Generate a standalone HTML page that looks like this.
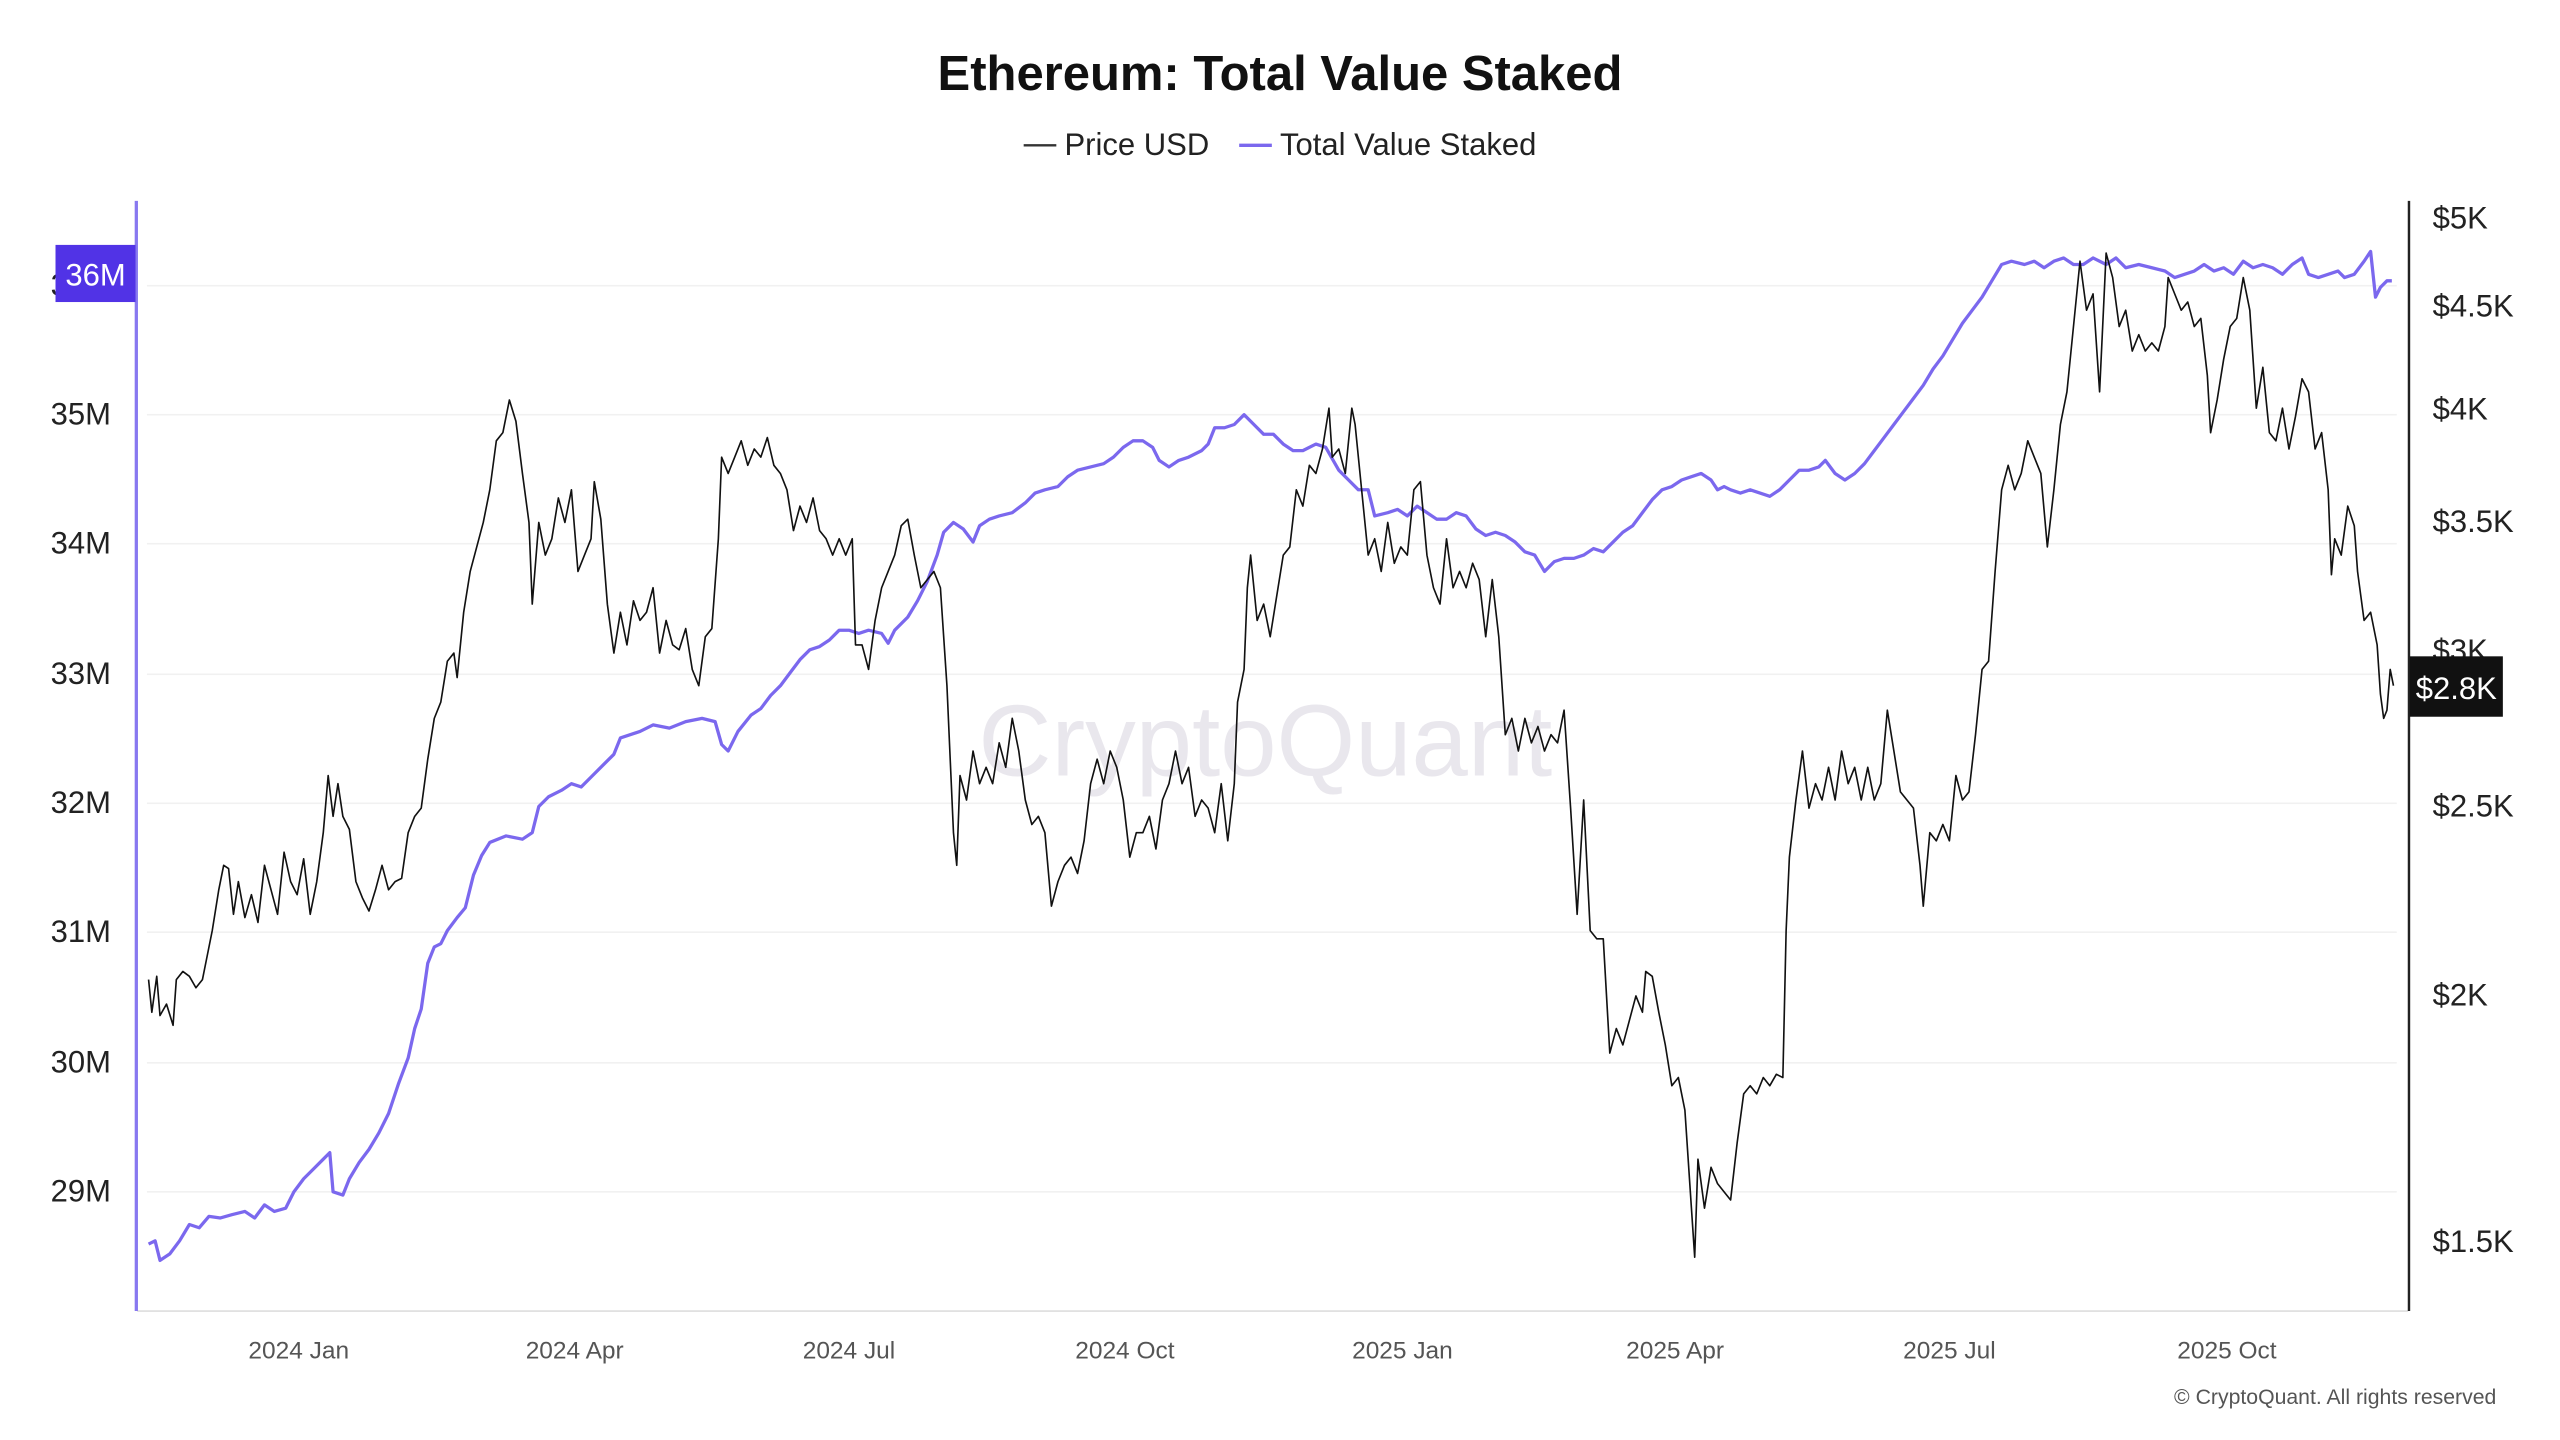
<!DOCTYPE html>
<html><head><meta charset="utf-8"><style>
html,body{margin:0;padding:0;background:#fff;}
svg{display:block;}
text{font-family:"Liberation Sans",sans-serif;}
</style></head><body>
<svg width="2560" height="1440" viewBox="0 0 1568 882" preserveAspectRatio="none" xmlns="http://www.w3.org/2000/svg">
<rect width="1568" height="882" fill="#fff"/>
<text x="784" y="55" text-anchor="middle" font-size="30" font-weight="bold" fill="#111">Ethereum: Total Value Staked</text>
<line x1="627" y1="89" x2="647" y2="89" stroke="#333" stroke-width="1.5"/>
<text x="652" y="95" font-size="19" fill="#222">Price USD</text>
<line x1="759" y1="89" x2="779" y2="89" stroke="#7b68ee" stroke-width="2"/>
<text x="784" y="95" font-size="19" fill="#222">Total Value Staked</text>
<text x="775" y="475" text-anchor="middle" font-size="62" fill="#e9e7ed">CryptoQuant</text>
<g stroke="#f1f1f1" stroke-width="1">
<line x1="90" y1="175" x2="1468" y2="175"/><line x1="90" y1="254" x2="1468" y2="254"/><line x1="90" y1="333" x2="1468" y2="333"/><line x1="90" y1="413" x2="1468" y2="413"/><line x1="90" y1="492" x2="1468" y2="492"/><line x1="90" y1="571" x2="1468" y2="571"/><line x1="90" y1="651" x2="1468" y2="651"/><line x1="90" y1="730" x2="1468" y2="730"/>
</g>
<line x1="84" y1="803" x2="1475" y2="803" stroke="#ddd" stroke-width="1"/>
<line x1="83.5" y1="123" x2="83.5" y2="803" stroke="#8878f0" stroke-width="2"/>
<line x1="1475.5" y1="123" x2="1475.5" y2="803" stroke="#222" stroke-width="1.5"/>
<g font-size="19" fill="#222" text-anchor="end">
<text x="68" y="181">36M</text><text x="68" y="260">35M</text><text x="68" y="339">34M</text><text x="68" y="419">33M</text><text x="68" y="498">32M</text><text x="68" y="577">31M</text><text x="68" y="657">30M</text><text x="68" y="736">29M</text>
</g>
<g font-size="19" fill="#222">
<text x="1490" y="140">$5K</text><text x="1490" y="194">$4.5K</text><text x="1490" y="257">$4K</text><text x="1490" y="326">$3.5K</text><text x="1490" y="405">$3K</text><text x="1490" y="500">$2.5K</text><text x="1490" y="616">$2K</text><text x="1490" y="767">$1.5K</text>
</g>
<g font-size="15" fill="#555" text-anchor="middle">
<text x="183" y="832">2024 Jan</text><text x="352" y="832">2024 Apr</text><text x="520" y="832">2024 Jul</text><text x="689" y="832">2024 Oct</text><text x="859" y="832">2025 Jan</text><text x="1026" y="832">2025 Apr</text><text x="1194" y="832">2025 Jul</text><text x="1364" y="832">2025 Oct</text>
</g>
<text x="1529" y="860" text-anchor="end" font-size="13" fill="#555">© CryptoQuant. All rights reserved</text>
<polyline fill="none" stroke="#7b68ee" stroke-width="2" stroke-linejoin="round" points="91,762 95,760 98,772 104,768 110,760 116,750 122,752 128,745 135,746 142,744 150,742 156,746 162,738 168,742 175,740 180,730 186,722 192,716 198,710 202,706 204,730 210,732 214,722 220,712 226,704 232,694 238,682 244,664 250,648 254,630 258,618 262,590 266,580 270,578 274,570 280,562 285,556 290,536 295,524 300,516 310,512 320,514 326,510 330,494 336,488 344,484 350,480 356,482 362,476 370,468 376,462 380,452 392,448 400,444 410,446 420,442 430,440 438,442 442,456 446,460 452,448 460,438 466,434 472,426 478,420 484,412 490,404 496,398 502,396 508,392 514,386 520,386 526,388 532,386 540,388 544,394 548,386 556,378 562,368 568,356 574,340 578,326 584,320 590,324 596,332 600,322 606,318 612,316 620,314 628,308 634,302 640,300 648,298 654,292 660,288 668,286 676,284 682,280 688,274 694,270 700,270 706,274 710,282 716,286 722,282 728,280 736,276 740,272 744,262 750,262 756,260 762,254 768,260 774,266 780,266 786,272 792,276 798,276 806,272 812,274 820,288 826,294 832,300 838,300 842,316 850,314 856,312 862,316 868,310 874,314 880,318 886,318 892,314 898,316 904,324 910,328 916,326 922,328 928,332 934,338 940,340 946,350 952,344 958,342 964,342 970,340 976,336 982,338 988,332 994,326 1000,322 1006,314 1012,306 1018,300 1024,298 1030,294 1036,292 1042,290 1048,294 1052,300 1056,298 1060,300 1066,302 1072,300 1078,302 1084,304 1090,300 1096,294 1102,288 1108,288 1114,286 1118,282 1124,290 1130,294 1136,290 1142,284 1148,276 1154,268 1160,260 1166,252 1172,244 1178,236 1184,226 1190,218 1196,208 1202,198 1208,190 1214,182 1220,172 1226,162 1232,160 1240,162 1246,160 1252,164 1258,160 1264,158 1270,162 1276,162 1282,158 1290,162 1296,158 1302,164 1310,162 1318,164 1326,166 1332,170 1338,168 1344,166 1350,162 1356,166 1362,164 1368,168 1374,160 1380,164 1386,162 1392,164 1398,168 1404,162 1410,158 1414,168 1420,170 1426,168 1432,166 1436,170 1442,168 1448,160 1452,154 1455,182 1458,176 1462,172 1465,172"/>
<polyline fill="none" stroke="#111" stroke-width="1" stroke-linejoin="round" points="91,600 93,620 96,598 98,622 102,615 106,628 108,600 112,595 116,598 120,605 124,600 126,590 130,570 134,545 137,530 140,532 143,560 146,540 150,562 154,548 158,565 162,530 166,545 170,560 174,522 178,540 182,548 186,526 190,560 194,540 198,510 201,475 204,500 207,480 210,500 214,508 218,540 222,550 226,558 230,545 234,530 238,545 242,540 246,538 250,510 254,500 258,495 262,465 266,440 270,430 274,405 278,400 280,415 284,375 288,350 292,335 296,320 300,300 304,270 308,265 312,245 316,258 320,290 324,320 326,370 330,320 334,340 338,330 342,305 346,320 350,300 354,350 358,340 362,330 364,295 368,318 372,370 376,400 380,375 384,395 388,368 392,380 396,375 400,360 404,400 408,380 412,395 416,398 420,385 424,410 428,420 432,390 436,385 440,330 442,280 446,290 450,280 454,270 458,285 462,275 466,280 470,268 474,285 478,290 482,300 486,325 490,310 494,320 498,305 502,325 506,330 510,340 514,330 518,340 522,330 524,395 528,395 532,410 536,380 540,360 544,350 548,340 552,322 556,318 560,340 564,360 568,355 572,350 576,360 580,420 584,510 586,530 588,475 592,490 596,460 600,480 604,470 608,480 612,455 616,470 620,440 624,460 628,490 632,505 636,500 640,510 644,555 648,540 652,530 656,525 660,535 664,515 668,480 672,465 676,480 680,460 684,470 688,490 692,525 696,510 700,510 704,500 708,520 712,490 716,480 720,460 724,480 728,470 732,500 736,490 740,495 744,510 748,480 752,515 756,480 758,430 762,410 764,360 766,340 770,380 774,370 778,390 782,365 786,340 790,335 794,300 798,310 802,285 806,290 810,275 814,250 816,280 820,275 824,290 828,250 830,260 834,300 838,340 842,330 846,350 850,320 854,345 858,335 862,340 866,300 870,295 874,340 878,360 882,370 886,330 890,360 894,350 898,360 902,345 906,355 910,390 914,355 918,390 922,450 926,440 930,460 934,440 938,455 942,445 946,460 950,450 954,455 958,435 962,495 966,560 970,490 974,570 978,575 982,575 986,645 990,630 994,640 998,625 1002,610 1006,620 1008,595 1012,598 1016,620 1020,640 1024,665 1028,660 1032,680 1036,740 1038,770 1040,710 1044,740 1048,715 1052,725 1056,730 1060,735 1064,700 1068,670 1072,665 1076,670 1080,660 1084,665 1088,658 1092,660 1094,570 1096,525 1100,490 1104,460 1108,495 1112,480 1116,490 1120,470 1124,490 1128,460 1132,480 1136,470 1140,490 1144,470 1148,490 1152,480 1156,435 1160,460 1164,485 1168,490 1172,495 1176,530 1178,555 1182,510 1186,515 1190,505 1194,515 1198,475 1202,490 1206,485 1210,450 1214,410 1218,405 1222,350 1226,300 1230,285 1234,300 1238,290 1242,270 1246,280 1250,290 1254,335 1258,300 1262,260 1266,240 1270,200 1274,160 1278,190 1282,180 1286,240 1290,155 1294,170 1298,200 1302,190 1306,215 1310,205 1314,215 1318,210 1322,215 1326,200 1328,170 1332,180 1336,190 1340,185 1344,200 1348,195 1352,230 1354,265 1358,245 1362,220 1366,200 1370,195 1374,170 1378,190 1382,250 1386,225 1390,265 1394,270 1398,250 1402,275 1406,255 1410,232 1414,240 1418,275 1422,265 1426,300 1428,352 1430,330 1434,340 1438,310 1442,322 1444,350 1448,380 1452,375 1456,395 1458,425 1460,440 1462,435 1464,410 1466,420"/>
<rect x="34" y="150" width="49" height="35" fill="#5133e6"/>
<text x="58.5" y="175" text-anchor="middle" font-size="19" fill="#fff">36M</text>
<rect x="1476" y="402" width="57" height="37" fill="#111"/>
<text x="1504.5" y="428" text-anchor="middle" font-size="19" fill="#fff">$2.8K</text>
</svg>
</body></html>
